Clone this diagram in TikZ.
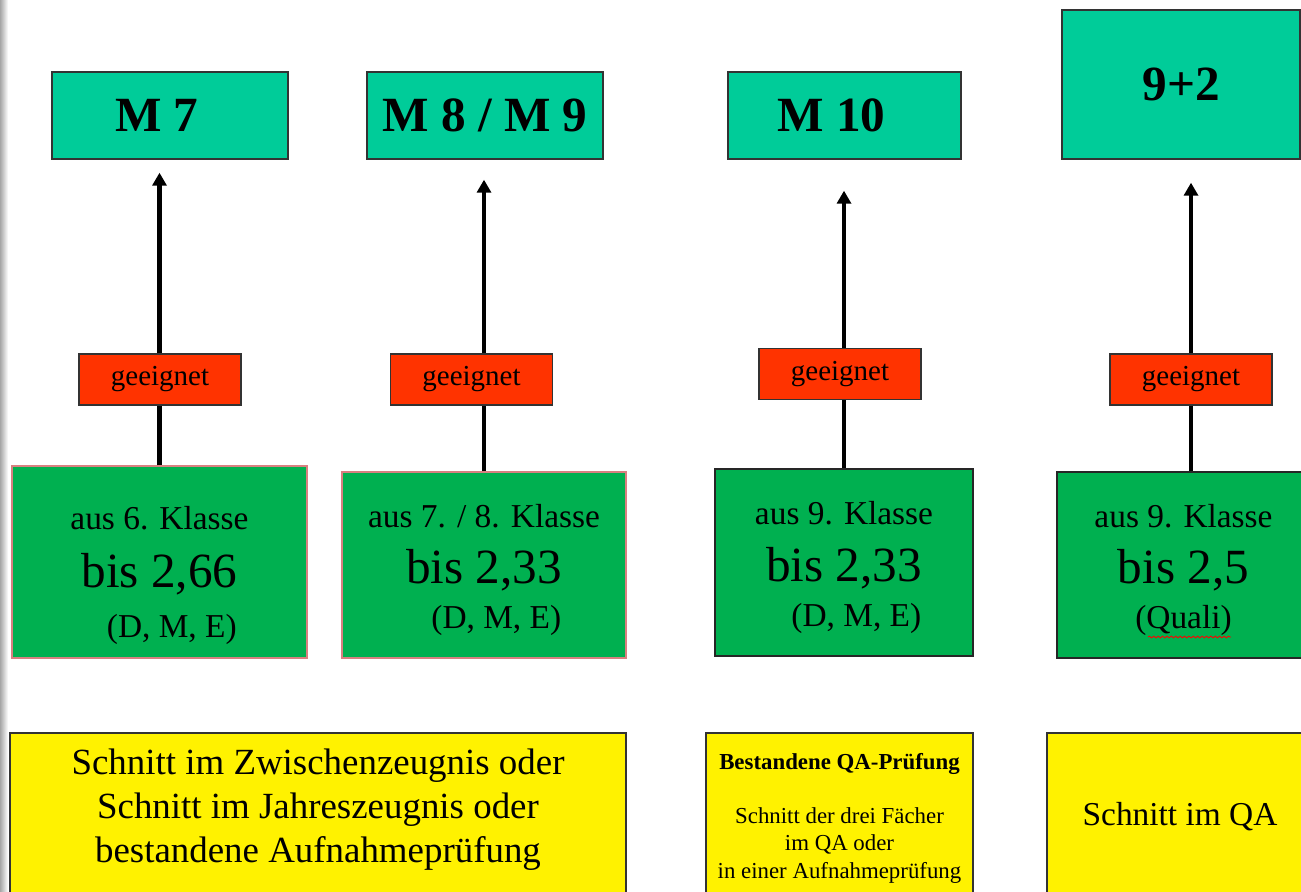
\documentclass[tikz,border=0pt]{standalone}
\usepackage{fontspec}
\setmainfont{Liberation Serif}
\usepackage{tikz}
\usetikzlibrary{arrows.meta}
\usetikzlibrary{decorations.pathmorphing}
\definecolor{mtop}{HTML}{00CC99}
\definecolor{okred}{HTML}{FF3300}
\definecolor{grgreen}{HTML}{00B050}
\definecolor{edgepink}{HTML}{D98080}
\newcommand{\klassefont}{\fontsize{19}{25.6}\selectfont}
\newcommand{\notefont}{\fontsize{28}{25.6}\selectfont}
\newcommand{\fachfont}{\fontsize{19}{25.6}\selectfont}
\tikzstyle{topbox} = [rectangle, draw=black!80, line width=0.8pt, fill=mtop, font=\fontsize{28}{32}\selectfont\bfseries, inner sep=0pt]
\tikzstyle{okbox} = [rectangle, draw=black!80, line width=0.8pt, fill=okred, font=\fontsize{16.5}{20}\selectfont, minimum width=32.4mm, minimum height=10.2mm, inner sep=0pt]
\tikzstyle{gradebox} = [rectangle, draw=black!85, line width=0.8pt, fill=grgreen, align=center, inner sep=0pt, font=\fontsize{19}{25.6}\selectfont]
\tikzstyle{reqbox} = [draw=black!80, line width=0.8pt, fill=yellow]
\tikzstyle{reqtext} = [align=center, inner sep=0pt]
\tikzstyle{link} = [line width=2.3pt]
\tikzstyle{arrow} = [line width=2.3pt, -{Triangle[width=2.8mm, length=2.6mm]}]

\begin{document}
\begin{tikzpicture}[x=0.2mm, y=-0.2mm]
\useasboundingbox (0,0) rectangle (1301,892);
\shade[left color=gray!70, right color=white] (0,0) rectangle (8,892);

% Zielklassen
\node (m1) [topbox, minimum width=47.2mm, minimum height=17.4mm] at (170,115.5) {M 7\hspace*{15pt}};
\node (m2) [topbox, minimum width=47.2mm, minimum height=17.4mm] at (485,115.5) {M 8 / M 9};
\node (m3) [topbox, minimum width=46.6mm, minimum height=17.4mm] at (844.5,115.5) {M 10\hspace*{15pt}};
\node (m4) [topbox, minimum width=47.6mm, minimum height=29.8mm] at (1181,84.5) {9+2};

% geeignet
\node (r1) [okbox] at (160,379.5) {geeignet};
\node (r2) [okbox] at (471.5,379.5) {geeignet};
\node (r3) [okbox] at (840,374) {geeignet};
\node (r4) [okbox] at (1191,379.5) {geeignet};

% Notenschnitt
\node (g1) [gradebox, draw=edgepink, minimum width=59mm, minimum height=38.4mm] at (159.5,562) {\klassefont\rule{0pt}{28.5pt}aus 6. Klasse\\[7.5pt] \notefont bis 2,66\\[3pt] \fachfont\hspace*{14pt}(D, M, E)};
\node (g2) [gradebox, draw=edgepink, minimum width=56.8mm, minimum height=37.2mm] at (484,565) {\klassefont\rule{0pt}{18.7pt}aus 7. / 8. Klasse\\[6.5pt] \notefont bis 2,33\\ \fachfont\hspace*{14pt}(D, M, E)};
\node (g3) [gradebox, minimum width=51.6mm, minimum height=37.4mm] at (844,562.5) {\klassefont\rule{0pt}{18.7pt}aus 9. Klasse\\[6.5pt] \notefont bis 2,33\\ \fachfont\hspace*{14pt}(D, M, E)};
\node (g4) [gradebox, minimum width=50.6mm, minimum height=37.2mm] at (1183.5,565) {\klassefont\rule{0pt}{18.7pt}aus 9. Klasse\\[6.5pt] \notefont bis 2,5\\ \fachfont(Quali)};
\draw [red, line width=0.5pt, decorate, decoration={snake, amplitude=0.5pt, segment length=2.5pt}] (1148,637) -- (1231,637);

\draw [link] (g1.north) -- (g1.north |- r1.south);
\draw [link] (g2.north) -- (g2.north |- r2.south);
\draw [link] (g3.north) -- (g3.north |- r3.south);
\draw [link] (r4.south |- g4.north) -- (r4.south);

\draw [arrow, shorten >=2.6mm] (g1.north |- r1.north) -- (g1.north |- m1.south);
\draw [arrow, shorten >=4mm] (g2.north |- r2.north) -- (g2.north |- m2.south);
\draw [arrow, shorten >=6.2mm] (g3.north |- r3.north) -- (g3.north |- m3.south);
\draw [arrow, shorten >=4.6mm] (r4.north) -- (r4.north |- m4.south);

% Voraussetzungen
\draw [reqbox] (10,733) rectangle (626,910);
\draw [reqbox] (706,733) rectangle (973,910);
\draw [reqbox] (1047,733) rectangle (1320,910);
\node (y1) [reqtext, font=\fontsize{21}{25}\selectfont] at (318,810) {Schnitt im Zwischenzeugnis oder\\ Schnitt im Jahreszeugnis oder\\ bestandene Aufnahmeprüfung};
\node (y2) [reqtext, font=\fontsize{13}{15.5}\selectfont] at (839.5,818) {\textbf{Bestandene QA-Prüfung}\\[15.5pt] Schnitt der drei Fächer\\ im QA oder\\ in einer Aufnahmeprüfung};
\node (y3) [reqtext, font=\fontsize{19}{23}\selectfont] at (1180,817) {Schnitt im QA};
\end{tikzpicture}
\end{document}
